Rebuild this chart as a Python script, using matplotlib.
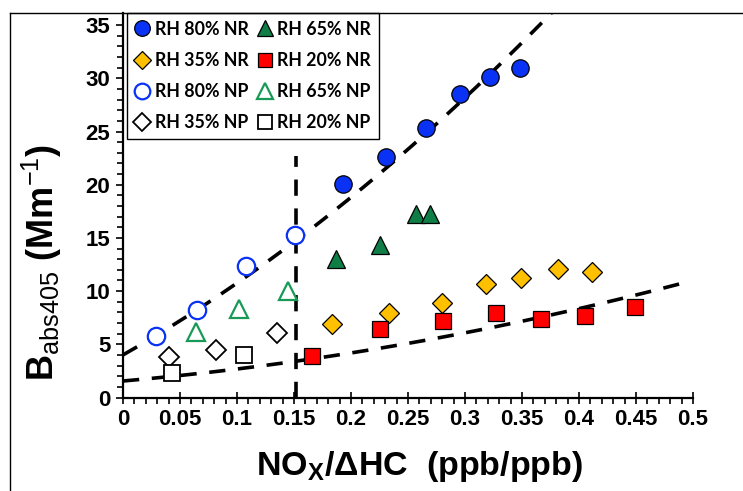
import numpy as np
import matplotlib
matplotlib.use("Agg")
import matplotlib.pyplot as plt
from matplotlib.lines import Line2D

plt.rcParams["font.family"] = ["Liberation Sans", "DejaVu Sans"]
plt.rcParams["mathtext.fontset"] = "custom"
plt.rcParams["mathtext.rm"] = "Liberation Sans"
plt.rcParams["mathtext.bf"] = "Liberation Sans:bold"

# RH 80% (blue circles)
rh80_nr_x = [0.193, 0.231, 0.266, 0.296, 0.322, 0.348]
rh80_nr_y = [20.1, 22.6, 25.3, 28.5, 30.1, 31.0]
rh80_np_x = [0.029, 0.065, 0.108, 0.151]
rh80_np_y = [5.8, 8.2, 12.4, 15.3]

# RH 65% (green triangles)
rh65_nr_x = [0.187, 0.225, 0.257, 0.269]
rh65_nr_y = [13.0, 14.3, 17.2, 17.2]
rh65_np_x = [0.064, 0.102, 0.145]
rh65_np_y = [6.2, 8.3, 10.0]

# RH 35% (diamonds)
rh35_nr_x = [0.183, 0.233, 0.280, 0.318, 0.349, 0.382, 0.411]
rh35_nr_y = [6.9, 7.9, 8.9, 10.7, 11.2, 12.1, 11.8]
rh35_np_x = [0.040, 0.082, 0.135]
rh35_np_y = [3.8, 4.5, 6.1]

# RH 20% (squares)
rh20_nr_x = [0.166, 0.225, 0.281, 0.327, 0.367, 0.405, 0.449]
rh20_nr_y = [3.9, 6.4, 7.2, 7.9, 7.4, 7.7, 8.5]
rh20_np_x = [0.043, 0.106]
rh20_np_y = [2.3, 4.0]

# dashed trend lines (quadratic coefficients, highest power first) and x ranges
trend_hi = [65.3, 61.0, 4.0]
trend_hi_range = [0.0, 0.40]
trend_lo = [19.1, 9.36, 1.55]
trend_lo_range = [0.0, 0.4915]
split_x = 0.152
split_top = 22.7

fig = plt.figure(figsize=(7.43, 4.91), dpi=100)
ax = fig.add_axes([123 / 743, 1 - 397.5 / 491, 570 / 743, (397.5 - 12.7) / 491])

dash = (4.5, 3.5)
xs = np.linspace(trend_hi_range[0], trend_hi_range[1], 200)
ax.plot(xs, np.polyval(trend_hi, xs), color="black", lw=2.6, dashes=dash, zorder=2)
xs = np.linspace(trend_lo_range[0], trend_lo_range[1], 200)
ax.plot(xs, np.polyval(trend_lo, xs), color="black", lw=2.6, dashes=dash, zorder=2)
ax.plot([split_x, split_x], [0, split_top], color="black", lw=2.6, dashes=dash, zorder=2)

blue = "#0a32f5"
green_f = "#0e7d46"
green_o = "#169a55"
gold = "#ffc000"
red = "#ff0000"

series = [
    (rh80_nr_x, rh80_nr_y, dict(marker="o", ms=12.5, mfc=blue, mec="black", mew=0.9), "RH 80% NR"),
    (rh35_nr_x, rh35_nr_y, dict(marker="D", ms=10.5, mfc=gold, mec="black", mew=0.9), "RH 35% NR"),
    (rh80_np_x, rh80_np_y, dict(marker="o", ms=12.5, mfc="white", mec=blue, mew=1.6), "RH 80% NP"),
    (rh35_np_x, rh35_np_y, dict(marker="D", ms=10.5, mfc="white", mec="black", mew=1.3), "RH 35% NP"),
    (rh65_nr_x, rh65_nr_y, dict(marker="^", ms=13.5, mfc=green_f, mec="black", mew=0.9), "RH 65% NR"),
    (rh20_nr_x, rh20_nr_y, dict(marker="s", ms=11, mfc=red, mec="black", mew=0.9), "RH 20% NR"),
    (rh65_np_x, rh65_np_y, dict(marker="^", ms=13.5, mfc="white", mec=green_o, mew=1.6), "RH 65% NP"),
    (rh20_np_x, rh20_np_y, dict(marker="s", ms=11, mfc="white", mec="black", mew=1.3), "RH 20% NP"),
]
handles = []
for x, y, st, lab in series:
    ax.plot(x, y, ls="none", zorder=3, **st)
    hs = dict(st)
    hs["ms"] = st["ms"] * 0.9
    handles.append(Line2D([], [], ls="none", label=lab, **hs))

ax.set_xlim(0, 0.5)
ax.set_ylim(0, (397.5 - 12.7) / 10.64)
ax.set_xticks(np.arange(0, 0.501, 0.05))
ax.set_xticklabels(["0", "0.05", "0.1", "0.15", "0.2", "0.25", "0.3", "0.35", "0.4", "0.45", "0.5"])
ax.set_xticks(np.arange(0, 0.501, 0.01), minor=True)
ax.set_yticks(np.arange(0, 36, 5))
ax.set_yticks(np.arange(0, 36, 1), minor=True)
ax.tick_params(axis="both", which="major", labelsize=16, width=1.2, length=5, pad=4)
ax.tick_params(axis="x", which="major", direction="inout", length=9)
ax.tick_params(axis="both", which="minor", width=1.2, length=4)
for t in ax.get_xticklabels() + ax.get_yticklabels():
    t.set_fontweight("bold")
for s in ["top", "right"]:
    ax.spines[s].set_visible(False)
for s in ["left", "bottom"]:
    ax.spines[s].set_linewidth(1.6)

fig.text(420 / 743, 1 - 467 / 491, r"NO$_{\mathbf{X}}$/ΔHC  (ppb/ppb)", ha="center", va="center",
         fontsize=24.5, fontweight="bold")
fig.text(42 / 743, 1 - 262 / 491, r"B$_{\mathrm{abs405}}$ (Mm$^{\mathrm{-1}}$)", ha="center", va="center",
         rotation=90, fontsize=26, fontweight="bold")

leg = ax.legend(handles=handles, ncol=2, loc="upper left", bbox_to_anchor=(0.0075, 1.0),
                prop={"family": "Lato", "weight": "bold", "size": 12.8},
                frameon=True, fancybox=False, edgecolor="black", framealpha=1,
                borderpad=0.45, labelspacing=0.8, handlelength=0.8, handletextpad=0.3,
                columnspacing=0.5, borderaxespad=0)
leg.get_frame().set_linewidth(1.0)

# outer frame
fig.add_artist(Line2D([10 / 743, 10 / 743], [0, 1 - 12.7 / 491], color="black", lw=1.0))
fig.add_artist(Line2D([10 / 743, 1], [1 - 12.7 / 491, 1 - 12.7 / 491], color="black", lw=1.0))

fig.savefig("out.png", dpi=100)
